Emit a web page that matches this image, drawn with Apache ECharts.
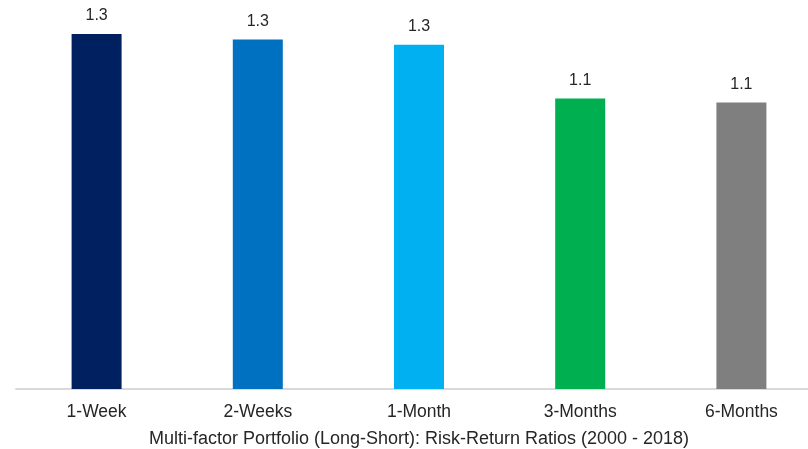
<!DOCTYPE html>
<html>
<head>
<meta charset="utf-8">
<style>
  html, body { margin: 0; padding: 0; background: #ffffff; }
  #chart { width: 808px; height: 449px; }
</style>
<script src="https://cdn.jsdelivr.net/npm/echarts@6/dist/echarts.min.js"></script>
</head>
<body>
<div id="chart"></div>
<script>
// Rebalancing horizons and their risk-return ratios
const categories = ['1-Week', '2-Weeks', '1-Month', '3-Months', '6-Months'];
const ratios = [1.32, 1.30, 1.28, 1.08, 1.065];
const barColors = ['#002060', '#0070C0', '#00B0F0', '#00B050', '#7F7F7F'];
const axisTitle = 'Multi-factor Portfolio (Long-Short): Risk-Return Ratios (2000 - 2018)';

const textColor = '#262626';
const fontFamily = '"Liberation Sans", Arial, sans-serif';

const chart = echarts.init(document.getElementById('chart'), null, { renderer: 'canvas' });

chart.setOption({
  animation: false,
  backgroundColor: '#ffffff',
  grid: { left: 16, top: 12.5, width: 806, bottom: 60, outerBoundsMode: 'none', containLabel: false },
  xAxis: {
    type: 'category',
    data: categories,
    name: axisTitle,
    nameLocation: 'middle',
    nameGap: 41,
    nameTextStyle: { color: textColor, fontSize: 18, fontFamily: fontFamily },
    axisLine: { show: true, lineStyle: { color: '#D9D9D9', width: 2 } },
    axisTick: { show: false },
    axisLabel: { color: textColor, fontSize: 17.5, fontFamily: fontFamily, margin: 14 },
    splitLine: { show: false }
  },
  yAxis: {
    type: 'value',
    min: 0,
    max: 1.4,
    show: false,
    splitLine: { show: false }
  },
  series: [{
    type: 'bar',
    barWidth: 50,
    data: ratios.map((v, i) => ({ value: v, itemStyle: { color: barColors[i] } })),
    label: {
      show: true,
      position: 'top',
      distance: 10,
      color: textColor,
      fontSize: 16,
      fontFamily: fontFamily,
      formatter: p => p.value.toFixed(1)
    }
  }]
});
</script>
</body>
</html>
